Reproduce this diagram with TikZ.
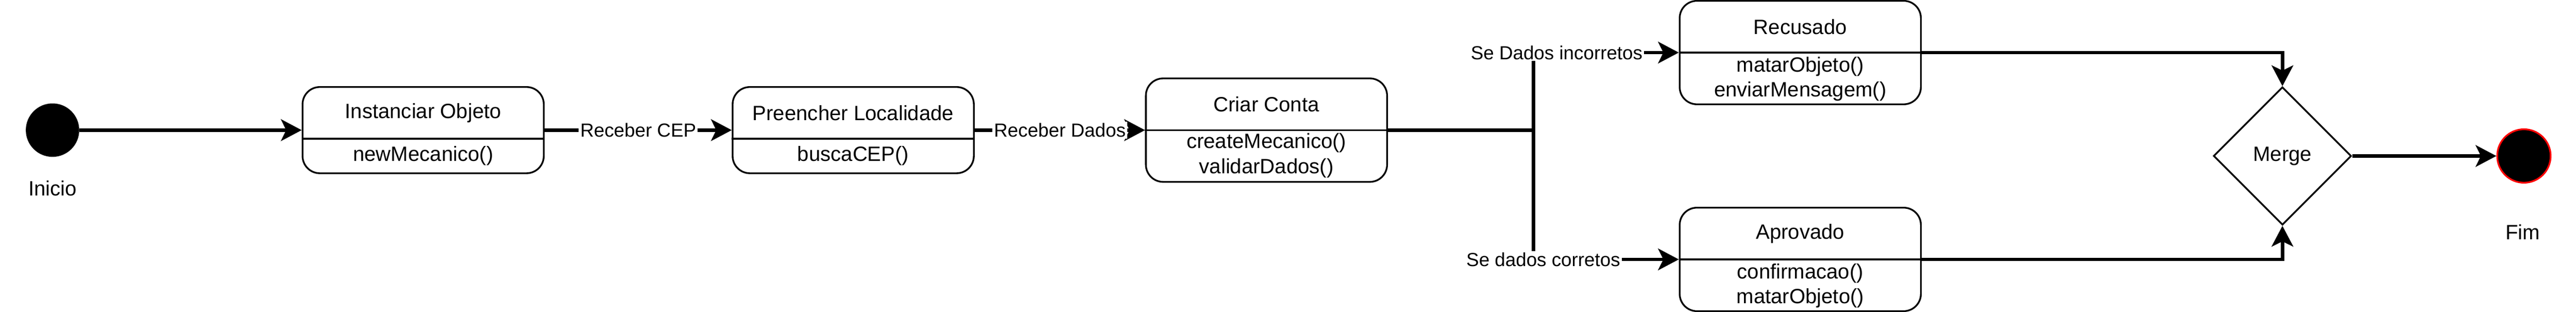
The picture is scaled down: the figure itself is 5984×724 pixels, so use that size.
\documentclass[tikz,border=0pt]{standalone}
\usepackage{fontspec}
\setmainfont{Liberation Sans}
\usepackage{tikz}
\usetikzlibrary{shapes.geometric,arrows.meta,positioning,calc}

\begin{document}
\begin{tikzpicture}[x=0.01cm, y=-0.01cm,
    statebox/.style={draw, rounded corners=0.4cm, line width=0.04cm, minimum width=5.6cm, inner sep=0pt},
    txt/.style={font=\fontsize{13.66}{16.5}\selectfont, align=center, inner sep=0pt},
    lbl/.style={font=\fontsize{12.52}{15}\selectfont, fill=white, inner sep=1pt},
    flow/.style={line width=0.08cm, -{Stealth[length=0.48cm, width=0.5cm, inset=0.12cm]}},
    part/.style={line width=0.04cm}]
  \useasboundingbox (0,0) rectangle (5984,724);
  % start
  \node[circle, fill=black, minimum size=1.24cm, inner sep=0pt] (ini) at (122,302) {};
  \node[txt] (initxt) at (122,437) {Inicio};
  % states
  \node[statebox, minimum height=2cm] (inst) at (983,302) {};
  \draw[part] ($(inst.west)+(0,20)$) -- ($(inst.east)+(0,20)$);
  \node[txt] (insttit) at (983,262) {Instanciar Objeto};
  \node[txt] (instops) at (983,362) {newMecanico()};
  \node[statebox, minimum height=2cm] (prc) at (1982,302) {};
  \draw[part] ($(prc.west)+(0,20)$) -- ($(prc.east)+(0,20)$);
  \node[txt] (prctit) at (1982,262) {Preencher Localidade};
  \node[txt] (prcops) at (1982,362) {buscaCEP()};
  \node[statebox, minimum height=2.4cm] (cria) at (2942,302) {};
  \draw[part] (cria.west) -- (cria.east);
  \node[txt] (criatit) at (2942,242) {Criar Conta};
  \node[txt] (criaops) at (2942,361) {createMecanico()\\validarDados()};
  \node[statebox, minimum height=2.4cm] (rec) at (4182,122) {};
  \draw[part] (rec.west) -- (rec.east);
  \node[txt] (rectit) at (4182,62) {Recusado};
  \node[txt] (recops) at (4182,183) {matarObjeto()\\enviarMensagem()};
  \node[statebox, minimum height=2.4cm] (apr) at (4182,602) {};
  \draw[part] (apr.west) -- (apr.east);
  \node[txt] (aprtit) at (4182,542) {Aprovado};
  \node[txt] (aprops) at (4182,663) {confirmacao()\\matarObjeto()};
  % merge and end
  \node[diamond, draw, line width=0.04cm, minimum width=3.2cm, minimum height=3.2cm, inner sep=0pt, txt] (merge) at (5302,362) {Merge};
  \node[circle, fill=black, draw=red, line width=0.04cm, minimum size=1.24cm, inner sep=0pt] (fim) at (5863,362) {};
  \node[txt] (fimtxt) at (5860,538) {Fim};
  % fork
  \coordinate (forktop) at (3562,145);
  \coordinate (forkbot) at (3562,567);
  \draw[line width=0.08cm] (forktop) -- (forkbot);
  % transitions
  \draw[flow] (ini) -- (inst);
  \draw[flow] (inst) -- node[lbl] (lblcep) {Receber CEP} (prc);
  \draw[flow] (prc) -- node[lbl] (lbldados) {Receber Dados} (cria);
  \draw[line width=0.08cm] (cria) -- (cria -| forktop);
  \draw[flow] (forktop) |- node[lbl, pos=0.58] (lblinc) {Se Dados incorretos} (rec);
  \draw[flow] (forkbot) |- node[lbl, pos=0.534] (lblcor) {Se dados corretos} (apr);
  \draw[flow] (rec) -| (merge);
  \draw[flow] (apr) -| (merge);
  \draw[flow] (merge) -- (fim);
\end{tikzpicture}
\end{document}
